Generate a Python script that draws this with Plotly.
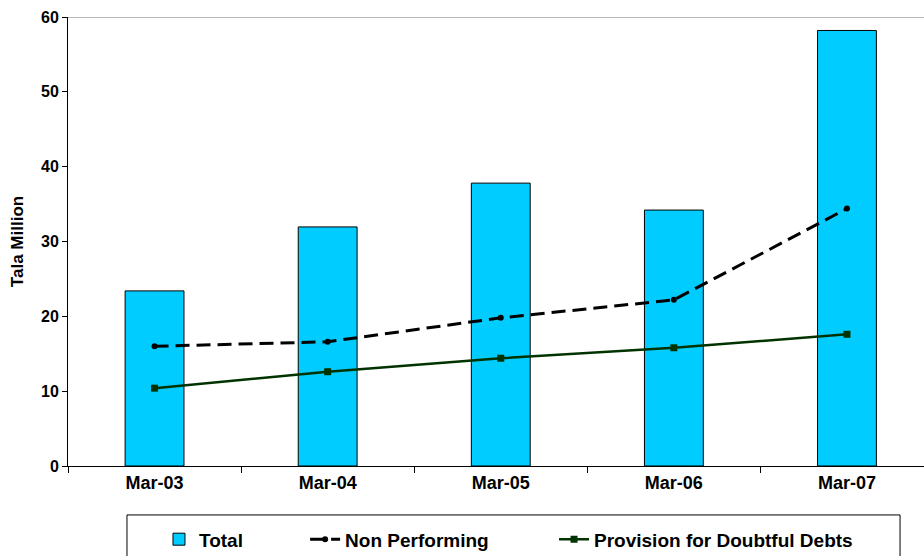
import plotly.graph_objects as go

categories = ["Mar-03", "Mar-04", "Mar-05", "Mar-06", "Mar-07"]
total = [23.4, 31.95, 37.8, 34.2, 58.2]
non_performing = [16.0, 16.6, 19.8, 22.2, 34.4]
provision = [10.4, 12.6, 14.4, 15.8, 17.6]

font_family = "Liberation Sans, Arial, sans-serif"

fig = go.Figure()
fig.add_trace(go.Bar(
    x=categories, y=total, name="Total", width=0.34, legend="legend",
    marker=dict(color="#00CCFF", line=dict(color="#000000", width=1)),
))
fig.add_trace(go.Scatter(
    x=categories, y=non_performing, name="Non Performing", mode="lines+markers", legend="legend2",
    line=dict(color="#000000", width=3, dash="14px,7px"),
    marker=dict(symbol="circle", size=6, color="#000000"),
))
fig.add_trace(go.Scatter(
    x=categories, y=provision, name="Provision for Doubtful Debts", mode="lines+markers", legend="legend3",
    line=dict(color="#003300", width=2.5),
    marker=dict(symbol="square", size=7, color="#003300"),
))

# top border of plot area
fig.add_shape(type="line", xref="paper", yref="y", x0=0, x1=1, y0=60, y1=60,
              line=dict(color="#A0A0A0", width=1.5))
# legend frame
fig.add_shape(type="rect", xref="paper", yref="paper", x0=0.0689, x1=0.9720, y0=-0.109, y1=-0.24,
              line=dict(color="#000000", width=1), fillcolor="rgba(0,0,0,0)")

legend_common = dict(
    orientation="h", yanchor="top", y=-0.121, xanchor="left",
    borderwidth=0, bgcolor="rgba(0,0,0,0)",
    font=dict(family=font_family, size=19, color="#000000", weight="bold"),
)

fig.update_layout(
    width=924, height=556,
    margin=dict(l=68, r=0, t=17, b=90, autoexpand=False),
    paper_bgcolor="white", plot_bgcolor="white",
    font=dict(family=font_family, size=16, color="#000000"),
    showlegend=True,
    legend=dict(legend_common, x=0.1063),
    legend2=dict(legend_common, x=0.277),
    legend3=dict(legend_common, x=0.5678),
    xaxis=dict(
        type="category", range=[-0.5, 4.445],
        showline=True, linecolor="#000000", linewidth=1,
        ticks="outside", tickson="boundaries", ticklen=6, tickcolor="#000000",
        tickfont=dict(family=font_family, size=18, weight="bold"),
        showgrid=False, zeroline=False,
    ),
    yaxis=dict(
        range=[0, 60], dtick=10,
        showline=True, linecolor="#000000", linewidth=1,
        ticks="outside", ticklen=5, tickcolor="#000000",
        tickfont=dict(family=font_family, size=16, weight="bold"),
        showgrid=False, zeroline=False,
        title=dict(text="Tala Million", font=dict(family=font_family, size=17, weight="bold"), standoff=13),
    ),
)

fig.write_html("out.html")
